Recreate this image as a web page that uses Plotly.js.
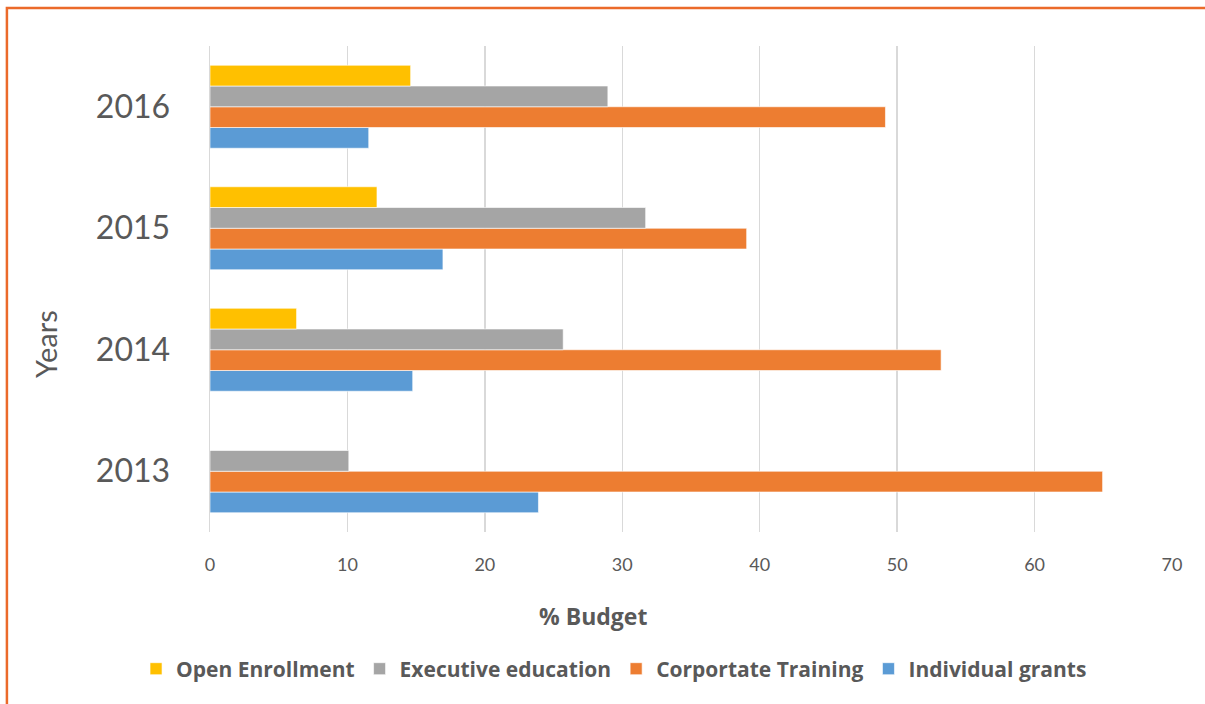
<!DOCTYPE html>
<html>
<head>
<meta charset="utf-8">
<script src="https://cdn.plot.ly/plotly-3.0.1.min.js"></script>
<style>
  body { margin: 0; background: #fff; }
  #plot { width: 1205px; height: 704px; }
</style>
</head>
<body>
<div id="plot"></div>
<script>
// years on the category axis (bottom to top)
var years = ["2013", "2014", "2015", "2016"];

// % budget per year
var openEnrollment = [0, 6.3, 12.15, 14.6];
var executiveEducation = [10.1, 25.7, 31.7, 28.95];
var corporateTraining = [64.95, 53.2, 39.05, 49.15];
var individualGrants = [23.9, 14.75, 16.95, 11.55];

var textColor = "#595959";
var baseFont = "Lato, 'Open Sans', sans-serif";
var boldFont = "'Open Sans', Lato, sans-serif";

function makeTrace(name, values, color) {
  return {
    type: "bar",
    orientation: "h",
    name: name,
    y: years,
    x: values,
    marker: { color: color, line: { color: "rgba(255,255,255,0.6)", width: 1 } },
    hoverinfo: "x+name"
  };
}

// first trace sits at the bottom of each group
var data = [
  makeTrace("Individual grants", individualGrants, "#5B9BD5"),
  makeTrace("Corportate Training", corporateTraining, "#ED7D31"),
  makeTrace("Executive education", executiveEducation, "#A5A5A5"),
  makeTrace("Open Enrollment", openEnrollment, "#FFC000")
];

var layout = {
  width: 1205,
  height: 704,
  margin: { l: 210, r: 33, t: 46, b: 172 },
  paper_bgcolor: "#fff",
  plot_bgcolor: "#fff",
  barmode: "group",
  bargap: 0.317,
  bargroupgap: 0,
  font: { family: baseFont, color: textColor },
  xaxis: {
    range: [0, 70],
    dtick: 10,
    showgrid: true,
    gridcolor: "#D9D9D9",
    gridwidth: 1.5,
    zeroline: false,
    showline: false,
    ticks: "outside",
    ticklen: 16,
    tickcolor: "rgba(0,0,0,0)",
    tickfont: { size: 18, color: textColor, family: baseFont },
    fixedrange: true
  },
  yaxis: {
    type: "category",
    showgrid: false,
    zeroline: false,
    showline: true,
    linecolor: "#D9D9D9",
    linewidth: 1.5,
    ticks: "outside",
    ticklen: 32,
    tickcolor: "rgba(0,0,0,0)",
    tickfont: { size: 32, color: textColor, family: baseFont },
    fixedrange: true
  },
  legend: {
    orientation: "h",
    traceorder: "reversed",
    x: 0.42,
    xanchor: "center",
    y: -0.282,
    yanchor: "middle",
    font: { size: 21, color: textColor, family: boldFont, weight: "bold" },
    itemwidth: 30
  },
  annotations: [
    {
      text: "Years",
      xref: "paper", yref: "paper",
      x: -0.1705, y: 0.387,
      xanchor: "center", yanchor: "middle",
      textangle: -90,
      showarrow: false,
      font: { size: 29, color: textColor, family: baseFont }
    },
    {
      text: "<b>% Budget</b>",
      xref: "paper", yref: "paper",
      x: 0.398, y: -0.173,
      xanchor: "center", yanchor: "middle",
      showarrow: false,
      font: { size: 23, color: textColor, family: boldFont }
    }
  ],
  shapes: [
    {
      type: "rect",
      xref: "paper", yref: "paper",
      x0: -0.2111, x1: 1.036,
      y0: -0.37, y1: 1.078,
      line: { color: "#EB6A2A", width: 2.5 },
      fillcolor: "rgba(0,0,0,0)",
      layer: "above"
    }
  ]
};

Plotly.newPlot("plot", data, layout, { displayModeBar: false, staticPlot: true });
</script>
</body>
</html>
